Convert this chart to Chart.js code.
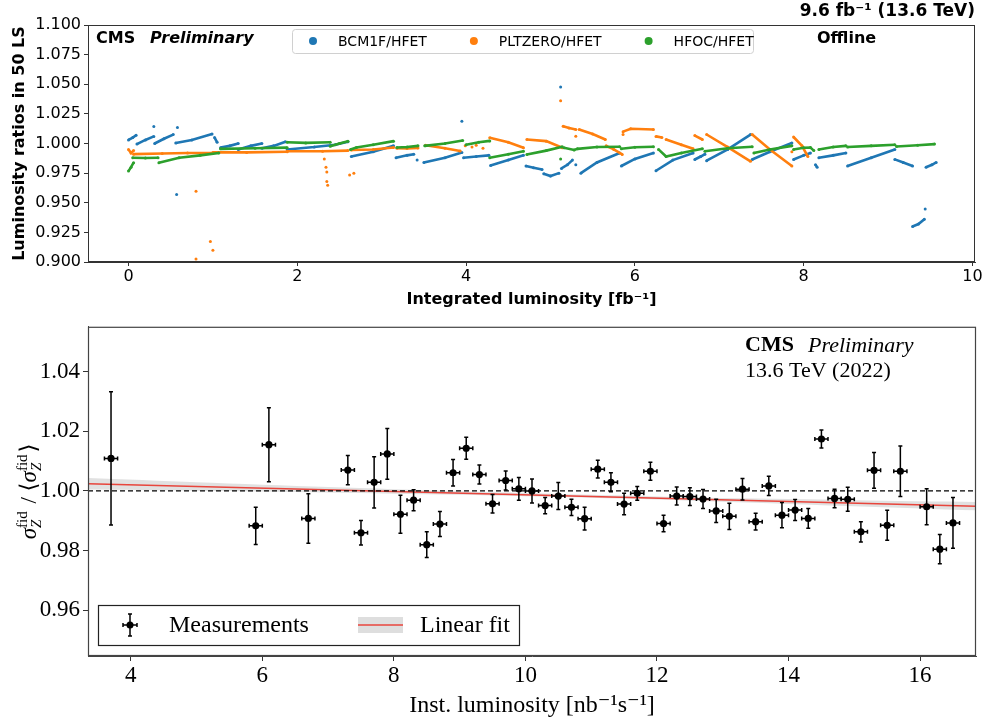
<!DOCTYPE html>
<html>
<head>
<meta charset="utf-8">
<script src="https://cdn.jsdelivr.net/npm/chart.js@4.4.1/dist/chart.umd.min.js"></script>
<style>
  html, body { margin: 0; padding: 0; background: #fff; }
  #wrap { position: relative; width: 983px; height: 720px; }
  canvas { position: absolute; left: 0; }
  #lumiChart { top: 0; }
  #zChart { top: 310px; }
</style>
</head>
<body>
<div id="wrap">
  <canvas id="lumiChart" width="983" height="310"></canvas>
  <canvas id="zChart" width="983" height="410"></canvas>
</div>
<script>
// ---- top panel: luminosity ratios vs integrated luminosity (null = gap between fills)
const bcm1fHfet = [
  [0.00, 1.003], [0.05, 1.005], [0.09, 1.007], null,
  [0.10, 0.9995], [0.20, 1.003], [0.30, 1.006], null,
  [0.30, 1.0143], null,
  [0.31, 1.000], [0.42, 1.004], [0.53, 1.0075], null,
  [0.56, 1.0005], [0.75, 1.003], [0.99, 1.008], null,
  [0.57, 0.957], null,
  [0.58, 1.0135], null,
  [1.02, 1.005], [1.05, 1.001], null,
  [1.09, 0.9965], [1.20, 0.998], [1.30, 1.000], null,
  [1.30, 0.995], [1.45, 0.998], [1.58, 1.000], null,
  [1.58, 0.996], [1.72, 0.998], [1.86, 1.0015], null,
  [1.88, 0.995], [2.20, 0.997], [2.45, 0.999], [2.60, 1.0015], null,
  [2.64, 0.989], [2.90, 0.993], [3.14, 0.998], null,
  [3.17, 0.988], [3.30, 0.990], [3.38, 0.991], null,
  [3.42, 0.986], null,
  [3.50, 0.984], [3.75, 0.988], [3.95, 0.9925], null,
  [3.95, 1.0187], null,
  [3.97, 0.988], [4.12, 0.989], [4.27, 0.990], null,
  [4.29, 0.9815], [4.50, 0.986], [4.68, 0.990], null,
  [4.71, 0.981], [4.80, 0.9795], [4.90, 0.978], null,
  [4.92, 0.9745], [5.00, 0.9725], [5.10, 0.975], null,
  [5.12, 1.0476], null,
  [5.13, 0.979], [5.20, 0.982], [5.26, 0.986], null,
  [5.30, 0.982], null,
  [5.36, 0.975], [5.55, 0.984], [5.82, 0.992], null,
  [5.84, 0.981], [6.00, 0.987], [6.22, 0.992], null,
  [6.25, 0.977], [6.45, 0.986], [6.69, 0.992], null,
  [6.71, 0.9865], [6.78, 0.989], [6.83, 0.991], null,
  [6.85, 0.9855], [7.10, 0.995], [7.37, 1.0075], null,
  [7.39, 0.9865], [7.60, 0.993], [7.86, 1.0005], null,
  [7.88, 0.9865], [8.00, 0.990], [8.08, 0.992], null,
  [8.14, 0.982], [8.16, 0.980], null,
  [8.18, 0.988], [8.35, 0.990], [8.50, 0.992], null,
  [8.52, 0.981], [8.80, 0.988], [9.08, 0.995], null,
  [9.08, 0.9866], [9.18, 0.984], [9.29, 0.981], null,
  [9.45, 0.980], [9.52, 0.982], [9.57, 0.984], null,
  [9.29, 0.930], [9.36, 0.932], [9.43, 0.936], null,
  [9.44, 0.9447]
];
const pltzeroHfet = [
  [0.00, 0.995], [0.03, 0.992], [0.06, 0.994], null,
  [0.06, 0.991], [0.40, 0.9915], [0.70, 0.992], [1.00, 0.992], null,
  [1.00, 0.9925], [1.40, 0.9925], [1.88, 0.993], null,
  [1.88, 0.9935], [2.30, 0.9935], [2.60, 0.994], null,
  [0.80, 0.9596], null, [0.80, 0.9025], null, [0.97, 0.9174], null, [1.00, 0.910], null,
  [2.32, 0.987], null, [2.34, 0.980], null, [2.35, 0.976], null, [2.35, 0.968], null, [2.36, 0.9647], null,
  [2.62, 0.9734], null, [2.67, 0.9748], null,
  [2.64, 0.9945], [2.90, 0.995], [3.14, 0.9966], null,
  [3.18, 0.996], [3.30, 0.9958], [3.43, 0.9962], null,
  [3.52, 0.9985], [3.75, 0.996], [3.93, 0.9936], null,
  [3.99, 0.998], null, [4.07, 0.997], null, [4.12, 0.9985], null, [4.20, 0.996], null,
  [4.28, 1.0048], [4.50, 1.001], [4.68, 0.9964], null,
  [4.72, 1.0034], [4.95, 1.002], [5.14, 0.9964], null,
  [5.12, 1.036], null,
  [5.15, 1.0145], [5.22, 1.013], [5.30, 1.0118], null,
  [5.30, 1.0062], null,
  [5.34, 1.0118], [5.50, 1.008], [5.65, 1.0034], null,
  [5.66, 0.998], [5.75, 0.995], [5.85, 0.9908], null,
  [5.86, 1.0076], null,
  [5.86, 1.010], [5.95, 1.0125], [6.22, 1.0118], null,
  [6.25, 1.006], [6.32, 1.005], null,
  [6.37, 1.0034], [6.55, 0.999], [6.69, 0.9955], null,
  [6.71, 1.0067], [6.80, 1.0034], null,
  [6.85, 1.0076], [7.10, 0.997], [7.37, 0.985], null,
  [7.39, 1.0076], [7.60, 0.995], [7.86, 0.981], null,
  [7.86, 0.993], null,
  [7.88, 1.0055], [7.98, 0.998], [8.05, 0.989]
];
const hfocHfet = [
  [0.00, 0.9767], [0.03, 0.980], [0.06, 0.9838], null,
  [0.05, 0.988], [0.20, 0.9878], [0.35, 0.988], null,
  [0.36, 0.9838], [0.60, 0.988], [0.85, 0.990], [1.07, 0.992], null,
  [1.09, 0.9955], [1.50, 0.996], [1.88, 0.9965], null,
  [1.88, 1.001], [2.10, 1.0005], [2.39, 1.001], null,
  [2.39, 0.9977], [2.50, 1.000], [2.60, 1.002], null,
  [2.63, 0.995], [2.70, 0.9966], [2.90, 0.999], [3.14, 1.002], null,
  [3.18, 0.9966], [3.30, 0.997], [3.43, 0.998], null,
  [3.51, 0.998], [3.75, 1.000], [3.96, 1.0025], null,
  [4.00, 0.999], [4.15, 1.001], [4.28, 1.0022], null,
  [4.28, 0.988], [4.50, 0.991], [4.68, 0.9935], null,
  [4.72, 0.9908], [4.95, 0.994], [5.14, 0.9972], null,
  [5.12, 0.987], null,
  [5.16, 0.9964], [5.28, 0.9945], [5.32, 0.9955], [5.55, 0.997], [5.82, 0.9972], null,
  [5.84, 0.9955], [6.00, 0.9968], [6.22, 0.9972], null,
  [6.28, 0.995], [6.37, 0.989], [6.55, 0.992], [6.80, 0.9955], null,
  [6.83, 0.9935], [7.10, 0.996], [7.39, 0.9972], null,
  [7.41, 0.992], [7.60, 0.995], [7.86, 0.998], null,
  [7.88, 0.995], [8.00, 0.9964], [8.08, 0.9966], [8.12, 0.994], null,
  [8.18, 0.995], [8.35, 0.997], [8.50, 0.998], null,
  [8.52, 0.997], [8.80, 0.998], [9.08, 0.999], null,
  [9.10, 0.9975], [9.35, 0.9985], [9.55, 0.9995]
];
const lumiXTicks = [0, 2, 4, 6, 8, 10];
const lumiYTicks = [0.900, 0.925, 0.950, 0.975, 1.000, 1.025, 1.050, 1.075, 1.100];

// ---- bottom panel: Z cross section ratio vs instantaneous luminosity
const instLumi = [3.7, 5.9, 6.1, 6.7, 7.3, 7.5, 7.7, 7.9, 8.1, 8.3, 8.5, 8.7, 8.9, 9.1, 9.3, 9.5, 9.7, 9.9,
  10.1, 10.3, 10.5, 10.7, 10.9, 11.1, 11.3, 11.5, 11.7, 11.9, 12.1, 12.3, 12.5, 12.7, 12.9, 13.1, 13.3,
  13.5, 13.7, 13.9, 14.1, 14.3, 14.5, 14.7, 14.9, 15.1, 15.3, 15.5, 15.7, 16.1, 16.3, 16.5];
const xsecRatio = [1.0109, 0.9883, 1.0155, 0.9908, 1.0070, 0.9860, 1.0029, 1.0124, 0.9922, 0.9969, 0.9820,
  0.9889, 1.0061, 1.0143, 1.0055, 0.9957, 1.0035, 1.0007, 1.0000, 0.9951, 0.9983, 0.9945, 0.9907, 1.0073,
  1.0029, 0.9956, 0.9992, 1.0066, 0.9891, 0.9983, 0.9981, 0.9973, 0.9933, 0.9915, 1.0006, 0.9897, 1.0017,
  0.9919, 0.9936, 0.9908, 1.0174, 0.9975, 0.9972, 0.9863, 1.0069, 0.9885, 1.0066, 0.9947, 0.9805, 0.9893];
const xsecRatioErr = [0.0223, 0.0062, 0.0124, 0.0083, 0.0049, 0.0041, 0.0086, 0.0085, 0.0064, 0.0035, 0.0043,
  0.0042, 0.0044, 0.0037, 0.0032, 0.0031, 0.0032, 0.0038, 0.0040, 0.0027, 0.0045, 0.0027, 0.0038, 0.0030,
  0.0032, 0.0036, 0.0023, 0.0030, 0.0028, 0.0030, 0.0030, 0.0032, 0.0039, 0.0044, 0.0036, 0.0028, 0.0032,
  0.0042, 0.0035, 0.0033, 0.0030, 0.0031, 0.0040, 0.0034, 0.0060, 0.0050, 0.0085, 0.0060, 0.0049, 0.0085];
const lumiBinHalf = 0.1;
const fitX = [3.35, 16.85];
const fitY = [1.0024, 0.9949];
const bandX = [3.35, 5, 7, 9, 11, 13, 15, 16.85];
const bandHi = [1.0043, 1.0029, 1.0013, 0.9999, 0.9987, 0.9976, 0.9969, 0.9963];
const bandLo = [1.0005, 1.0001, 0.9995, 0.9987, 0.9977, 0.9964, 0.9949, 0.9935];
const unityX = [3.35, 16.85];
const unityY = [1.0, 1.0];
const zXTicks = [4, 6, 8, 10, 12, 14, 16];
const zYTicks = [0.96, 0.98, 1.00, 1.02, 1.04];

function toXY(pts) {
  let lastX = 0;
  return pts.map(p => {
    if (!p) return { x: lastX, y: null };
    lastX = p[0];
    return { x: p[0], y: p[1] };
  });
}
function pairs(xs, ys) { return xs.map((x, i) => ({ x: x, y: ys[i] })); }

const SANS = '"DejaVu Sans", sans-serif';
const SERIF = '"Liberation Serif", "DejaVu Serif", serif';

const lumiDecor = {
  id: 'lumiDecor',
  afterDraw(chart) {
    const { ctx, chartArea: a } = chart;
    ctx.save();
    ctx.strokeStyle = '#333';
    ctx.lineWidth = 1;
    ctx.strokeRect(a.left + 0.5, a.top + 0.5, a.right - a.left - 1, a.bottom - a.top - 1);

    ctx.fillStyle = '#000';
    ctx.textBaseline = 'middle';
    ctx.textAlign = 'left';
    ctx.font = 'bold 16px ' + SANS;
    ctx.fillText('CMS', a.left + 8, a.top + 14);
    ctx.font = 'italic bold 16px ' + SANS;
    ctx.fillText('Preliminary', a.left + 62, a.top + 14);
    ctx.font = 'bold 16px ' + SANS;
    ctx.fillText('Offline', a.left + 729, a.top + 14);
    ctx.textAlign = 'right';
    ctx.font = 'bold 17px ' + SANS;
    ctx.fillText('9.6 fb\u207B\u00B9 (13.6 TeV)', a.right, 12);

    // legend box inside the axes
    const bx = a.left + 204, by = a.top + 4, bw = 461, bh = 24;
    ctx.fillStyle = 'rgba(255,255,255,0.85)';
    ctx.strokeStyle = '#d0d0d0';
    ctx.beginPath();
    ctx.roundRect(bx + 0.5, by + 0.5, bw, bh, 3);
    ctx.fill();
    ctx.stroke();
    ctx.font = '14px ' + SANS;
    ctx.textAlign = 'left';
    let x = bx + 21;
    chart.data.datasets.forEach(ds => {
      ctx.fillStyle = ds.borderColor;
      ctx.beginPath();
      ctx.arc(x, by + bh / 2, 4, 0, Math.PI * 2);
      ctx.fill();
      ctx.fillStyle = '#000';
      ctx.fillText(ds.label, x + 25, by + bh / 2 + 1);
      x += 25 + ctx.measureText(ds.label).width + 47;
    });
    ctx.restore();
  }
};

function lumiSeries(label, pts, color, order) {
  return {
    label: label, data: toXY(pts), order: order,
    borderColor: color, backgroundColor: color,
    showLine: true, spanGaps: false, borderWidth: 2.6,
    pointRadius: 1.5, pointBorderWidth: 0, pointHoverRadius: 0
  };
}

new Chart(document.getElementById('lumiChart'), {
  type: 'scatter',
  data: {
    datasets: [
      lumiSeries('BCM1F/HFET', bcm1fHfet, '#1f77b4', 3),
      lumiSeries('PLTZERO/HFET', pltzeroHfet, '#ff7f0e', 2),
      lumiSeries('HFOC/HFET', hfocHfet, '#2ca02c', 1)
    ]
  },
  options: {
    responsive: false, animation: false, devicePixelRatio: 1,
    layout: { padding: { top: 25, right: 8, left: 0, bottom: 0 } },
    plugins: { legend: { display: false }, tooltip: { enabled: false } },
    scales: {
      x: {
        type: 'linear', min: -0.48, max: 10.03,
        afterBuildTicks: s => { s.ticks = lumiXTicks.map(v => ({ value: v })); },
        afterFit: s => { s.height = 48; s.paddingLeft = 0; s.paddingRight = 0; },
        grid: { drawOnChartArea: false, tickLength: 4, color: '#333' },
        border: { color: '#333' },
        ticks: { color: '#000', font: { family: SANS, size: 16 }, padding: 1, maxRotation: 0, autoSkip: false },
        title: { display: true, text: 'Integrated luminosity [fb\u207B\u00B9]', color: '#000',
          font: { family: SANS, size: 16, weight: 'bold' }, padding: { top: 0, bottom: 1 } }
      },
      y: {
        type: 'linear', min: 0.9, max: 1.1,
        afterBuildTicks: s => { s.ticks = lumiYTicks.map(v => ({ value: v })); },
        afterFit: s => { s.width = 88; },
        grid: { drawOnChartArea: false, tickLength: 4, color: '#333' },
        border: { color: '#333' },
        ticks: { color: '#000', font: { family: SANS, size: 16 }, padding: 3, callback: v => v.toFixed(3) },
        title: { display: true, text: 'Luminosity ratios in 50 LS', color: '#000',
          font: { family: SANS, size: 16, weight: 'bold' }, padding: { top: 10, bottom: 0 } }
      }
    }
  },
  plugins: [lumiDecor]
});

// ---- bottom chart
const zDecor = {
  id: 'zDecor',
  afterDatasetsDraw(chart) {
    const { ctx } = chart;
    const xs = chart.scales.x, ys = chart.scales.y;
    ctx.save();
    ctx.strokeStyle = '#000';
    ctx.lineWidth = 1.5;
    instLumi.forEach((x, i) => {
      const px = xs.getPixelForValue(x);
      const py = ys.getPixelForValue(xsecRatio[i]);
      const yTop = ys.getPixelForValue(xsecRatio[i] + xsecRatioErr[i]);
      const yBot = ys.getPixelForValue(xsecRatio[i] - xsecRatioErr[i]);
      const xL = xs.getPixelForValue(x - lumiBinHalf);
      const xR = xs.getPixelForValue(x + lumiBinHalf);
      ctx.beginPath();
      ctx.moveTo(px, yTop); ctx.lineTo(px, yBot);
      ctx.moveTo(px - 2, yTop); ctx.lineTo(px + 2, yTop);
      ctx.moveTo(px - 2, yBot); ctx.lineTo(px + 2, yBot);
      ctx.moveTo(xL, py); ctx.lineTo(xR, py);
      ctx.moveTo(xL, py - 2); ctx.lineTo(xL, py + 2);
      ctx.moveTo(xR, py - 2); ctx.lineTo(xR, py + 2);
      ctx.stroke();
    });
    ctx.restore();
  },
  afterDraw(chart) {
    const { ctx, chartArea: a } = chart;
    ctx.save();
    ctx.strokeStyle = '#444';
    ctx.lineWidth = 1.2;
    ctx.strokeRect(a.left + 0.5, a.top + 0.5, a.right - a.left - 1, a.bottom - a.top - 1);

    ctx.fillStyle = '#000';
    ctx.textBaseline = 'middle';
    ctx.textAlign = 'left';
    ctx.font = 'bold 22px ' + SERIF;
    ctx.fillText('CMS', a.left + 657, a.top + 19);
    ctx.font = 'italic 22px ' + SERIF;
    ctx.fillText('Preliminary', a.left + 720, a.top + 19);
    ctx.font = '22px ' + SERIF;
    ctx.fillText('13.6 TeV (2022)', a.left + 657, a.top + 44);

    // legend
    const bx = a.left + 10, by = a.bottom - 51, bw = 421, bh = 40;
    ctx.fillStyle = '#fff';
    ctx.strokeStyle = '#222';
    ctx.lineWidth = 1.2;
    ctx.fillRect(bx, by, bw, bh);
    ctx.strokeRect(bx + 0.5, by + 0.5, bw, bh);
    const cy = by + bh / 2;
    const mx = bx + 32;
    ctx.strokeStyle = '#000';
    ctx.lineWidth = 1.5;
    ctx.beginPath();
    ctx.moveTo(mx, cy - 11); ctx.lineTo(mx, cy + 11);
    ctx.moveTo(mx - 2, cy - 11); ctx.lineTo(mx + 2, cy - 11);
    ctx.moveTo(mx - 2, cy + 11); ctx.lineTo(mx + 2, cy + 11);
    ctx.moveTo(mx - 7, cy); ctx.lineTo(mx + 7, cy);
    ctx.moveTo(mx - 7, cy - 2); ctx.lineTo(mx - 7, cy + 2);
    ctx.moveTo(mx + 7, cy - 2); ctx.lineTo(mx + 7, cy + 2);
    ctx.stroke();
    ctx.fillStyle = '#000';
    ctx.beginPath(); ctx.arc(mx, cy, 3.5, 0, Math.PI * 2); ctx.fill();
    ctx.font = '24px ' + SERIF;
    ctx.fillText('Measurements', bx + 71, cy + 1);
    ctx.fillStyle = 'rgba(200,200,200,0.6)';
    ctx.fillRect(bx + 260, cy - 8, 45, 16);
    ctx.strokeStyle = '#e8453c';
    ctx.lineWidth = 1.5;
    ctx.beginPath(); ctx.moveTo(bx + 260, cy); ctx.lineTo(bx + 305, cy); ctx.stroke();
    ctx.fillStyle = '#000';
    ctx.fillText('Linear fit', bx + 322, cy + 1);

    // y axis title: sigma_Z^fid / <sigma_Z^fid>
    const big = 'italic 23px ' + SERIF, sup = '15px ' + SERIF, sub = 'italic 15px ' + SERIF, rm = '23px ' + SERIF;
    const parts = [
      { t: '\u03C3', f: big },
      { t: 'fid', f: sup, dy: -9, sub: 'Z', sf: sub, sdy: 5 },
      { t: ' / \u27E8', f: rm },
      { t: '\u03C3', f: big },
      { t: 'fid', f: sup, dy: -9, sub: 'Z', sf: sub, sdy: 5 },
      { t: '\u27E9', f: rm }
    ];
    const widthOf = p => {
      ctx.font = p.f;
      let w = ctx.measureText(p.t).width;
      if (p.sub) { ctx.font = p.sf; w = Math.max(w, ctx.measureText(p.sub).width); }
      return w + (p.sub ? 2 : 0);
    };
    const total = parts.reduce((s, p) => s + widthOf(p), 0);
    ctx.translate(36, (a.top + a.bottom) / 2);
    ctx.rotate(-Math.PI / 2);
    ctx.textBaseline = 'alphabetic';
    let x = -total / 2;
    parts.forEach(p => {
      const w = widthOf(p);
      ctx.font = p.f;
      ctx.fillText(p.t, x, p.dy || 0);
      if (p.sub) { ctx.font = p.sf; ctx.fillText(p.sub, x, p.sdy); }
      x += w;
    });
    ctx.restore();
  }
};

new Chart(document.getElementById('zChart'), {
  type: 'scatter',
  data: {
    datasets: [
      { label: 'Measurements', data: pairs(instLumi, xsecRatio), order: 0,
        backgroundColor: '#000', borderColor: '#000', pointRadius: 3.6, pointBorderWidth: 0, pointHoverRadius: 3.6 },
      { type: 'line', label: 'unity', data: pairs(unityX, unityY), order: 1,
        borderColor: '#000', borderWidth: 1.3, borderDash: [5, 3], pointRadius: 0, fill: false },
      { type: 'line', label: 'Linear fit', data: pairs(fitX, fitY), order: 2,
        borderColor: '#e8453c', borderWidth: 1.5, pointRadius: 0, fill: false },
      { type: 'line', label: 'band hi', data: pairs(bandX, bandHi), order: 3,
        borderWidth: 0, borderColor: 'rgba(0,0,0,0)', pointRadius: 0, tension: 0.3,
        fill: '+1', backgroundColor: 'rgba(195,195,195,0.5)' },
      { type: 'line', label: 'band lo', data: pairs(bandX, bandLo), order: 4,
        borderWidth: 0, borderColor: 'rgba(0,0,0,0)', pointRadius: 0, tension: 0.3, fill: false }
    ]
  },
  options: {
    responsive: false, animation: false, devicePixelRatio: 1,
    layout: { padding: { top: 15, right: 7, left: 0, bottom: 0 } },
    plugins: { legend: { display: false }, tooltip: { enabled: false } },
    scales: {
      x: {
        type: 'linear', min: 3.35, max: 16.85,
        afterBuildTicks: s => { s.ticks = zXTicks.map(v => ({ value: v })); },
        afterFit: s => { s.height = 64; s.paddingLeft = 0; s.paddingRight = 0; },
        grid: { drawOnChartArea: false, tickLength: 5, color: '#333' },
        border: { color: '#444' },
        ticks: { color: '#000', font: { family: SERIF, size: 23 }, padding: 1, maxRotation: 0, autoSkip: false },
        title: { display: true, text: 'Inst. luminosity [nb\u207B\u00B9s\u207B\u00B9]', color: '#000',
          font: { family: SERIF, size: 24 }, padding: { top: 0, bottom: 0 } }
      },
      y: {
        type: 'linear', min: 0.9447, max: 1.055,
        afterBuildTicks: s => { s.ticks = zYTicks.map(v => ({ value: v })); },
        afterFit: s => { s.width = 88; },
        grid: { drawOnChartArea: false, tickLength: 5, color: '#333' },
        border: { color: '#444' },
        ticks: { color: '#000', font: { family: SERIF, size: 23 }, padding: 3, callback: v => v.toFixed(2) }
      }
    }
  },
  plugins: [zDecor]
});
</script>
</body>
</html>
